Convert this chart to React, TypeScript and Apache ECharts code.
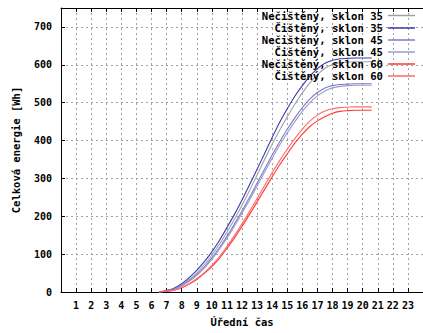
import React, { useEffect, useRef } from "react";
import * as echarts from "echarts";

const hours = [6.5, 7, 7.5, 8, 8.5, 9, 9.5, 10, 10.5, 11, 11.5, 12, 12.5, 13, 13.5, 14, 14.5, 15, 15.5, 16, 16.5, 17, 17.5, 18, 18.5, 19, 19.5, 20, 20.6];

const nec35 = [0, 3, 9, 19, 33, 50, 72, 97, 126, 158, 192, 229, 268, 309, 350, 390, 428, 463, 496, 526, 552, 574, 591, 601, 606, 607, 608, 608, 608];
const cis35 = [0, 4, 10, 22, 38, 57, 80, 106, 136, 170, 205, 243, 283, 324, 366, 408, 448, 484, 517, 545, 570, 590, 604, 612, 616, 617, 618, 618, 618];
const nec45 = [0, 3, 8, 17, 30, 46, 66, 90, 117, 147, 180, 214, 250, 288, 325, 362, 397, 430, 460, 487, 510, 527, 539, 545, 548, 549, 550, 550, 550];
const cis45 = [0, 3, 7, 16, 28, 44, 63, 86, 113, 142, 174, 208, 243, 280, 317, 353, 388, 420, 450, 477, 500, 518, 531, 539, 543, 545, 546, 546, 546];
const nec60 = [0, 2, 5, 11, 21, 33, 49, 67, 89, 115, 143, 173, 205, 238, 271, 304, 336, 365, 393, 417, 437, 452, 463, 472, 477, 479, 480, 480, 480];
const cis60 = [0, 2, 5, 12, 22, 35, 51, 70, 93, 120, 149, 180, 213, 247, 281, 315, 347, 377, 405, 430, 451, 467, 478, 484, 487, 488, 489, 489, 489];

const seriesNames = [
  "Nečištěný, sklon 35",
  "Čištěný, sklon 35",
  "Nečištěný, sklon 45",
  "Čištěný, sklon 45",
  "Nečištěný, sklon 60",
  "Čištěný, sklon 60",
];
const seriesValues = [nec35, cis35, nec45, cis45, nec60, cis60];
const seriesColors = ["#a0a0a0", "#3a3ab4", "#7c7cc4", "#9a9ad8", "#ff3a3a", "#ff6a6a"];

const FONT = "DejaVu Sans Mono";

export default function App() {
  const ref = useRef<HTMLDivElement>(null);
  useEffect(() => {
    if (!ref.current) return;
    const chart = echarts.init(ref.current, null, { renderer: "svg" });
    const textStyle = { fontFamily: FONT, fontWeight: "bold", fontSize: 10, color: "#000" };
    const rowY = [16.5, 29, 41, 53, 65, 77];
    const legends = seriesNames.map((n, i) => ({
      data: [n],
      right: 8,
      top: rowY[i] - 6.5,
      orient: "horizontal",
      align: "right",
      itemWidth: 27,
      itemHeight: 1.5,
      icon: "rect",
      padding: 0,
      selectedMode: false,
      textStyle: { ...textStyle, fontSize: 10.6 },
    }));
    chart.setOption({
      animation: false,
      backgroundColor: "#fff",
      textStyle: { fontFamily: FONT },
      grid: { left: 61, right: -7, top: 8, bottom: 41, containLabel: false },
      legend: legends,
      xAxis: [
        {
          type: "value",
          min: 0,
          max: 24,
          interval: 1,
          name: "Úřední čas",
          nameLocation: "middle",
          nameGap: 24,
          nameTextStyle: { ...textStyle, fontSize: 10.5 },
          axisLine: { lineStyle: { color: "#000", width: 1 } },
          axisTick: { inside: true, length: 4, lineStyle: { color: "#000" } },
          axisLabel: {
            ...textStyle,
            margin: 8,
            showMinLabel: false,
            showMaxLabel: false,
            formatter: (v: number) => (v >= 1 && v <= 23 ? String(v) : ""),
          },
          splitLine: { show: true, lineStyle: { color: "#a0a0a0", type: [2, 3], width: 1 } },
        },
        {
          type: "value",
          position: "top",
          min: 0,
          max: 24,
          interval: 1,
          axisLine: { show: true, lineStyle: { color: "#000", width: 1 } },
          axisTick: { show: true, inside: true, length: 4, lineStyle: { color: "#000" } },
          axisLabel: { show: false },
          splitLine: { show: false },
        },
      ],
      yAxis: {
        type: "value",
        min: 0,
        max: 750,
        interval: 100,
        name: "Celková energie [Wh]",
        nameLocation: "middle",
        nameGap: 40,
        nameRotate: 90,
        nameTextStyle: { ...textStyle, fontSize: 10.5 },
        axisLine: { show: true, lineStyle: { color: "#000", width: 1 } },
        axisTick: { show: true, inside: true, length: 4, lineStyle: { color: "#000" } },
        axisLabel: {
          ...textStyle,
          margin: 9,
          showMaxLabel: false,
          formatter: (v: number) => (v <= 700 ? String(v) : ""),
        },
        splitLine: { show: true, lineStyle: { color: "#a0a0a0", type: [2, 3], width: 1 } },
      },
      series: seriesNames.map((n, i) => ({
        name: n,
        type: "line",
        xAxisIndex: 0,
        showSymbol: false,
        smooth: 0.3,
        color: seriesColors[i],
        lineStyle: { width: 1.1, color: seriesColors[i] },
        data: hours.map((h, j) => [h, seriesValues[i][j]]),
      })),
    });
    return () => chart.dispose();
  }, []);
  return (
    <div
      ref={ref}
      style={{ position: "absolute", left: 0, top: 0, width: 423, height: 333 }}
    />
  );
}
